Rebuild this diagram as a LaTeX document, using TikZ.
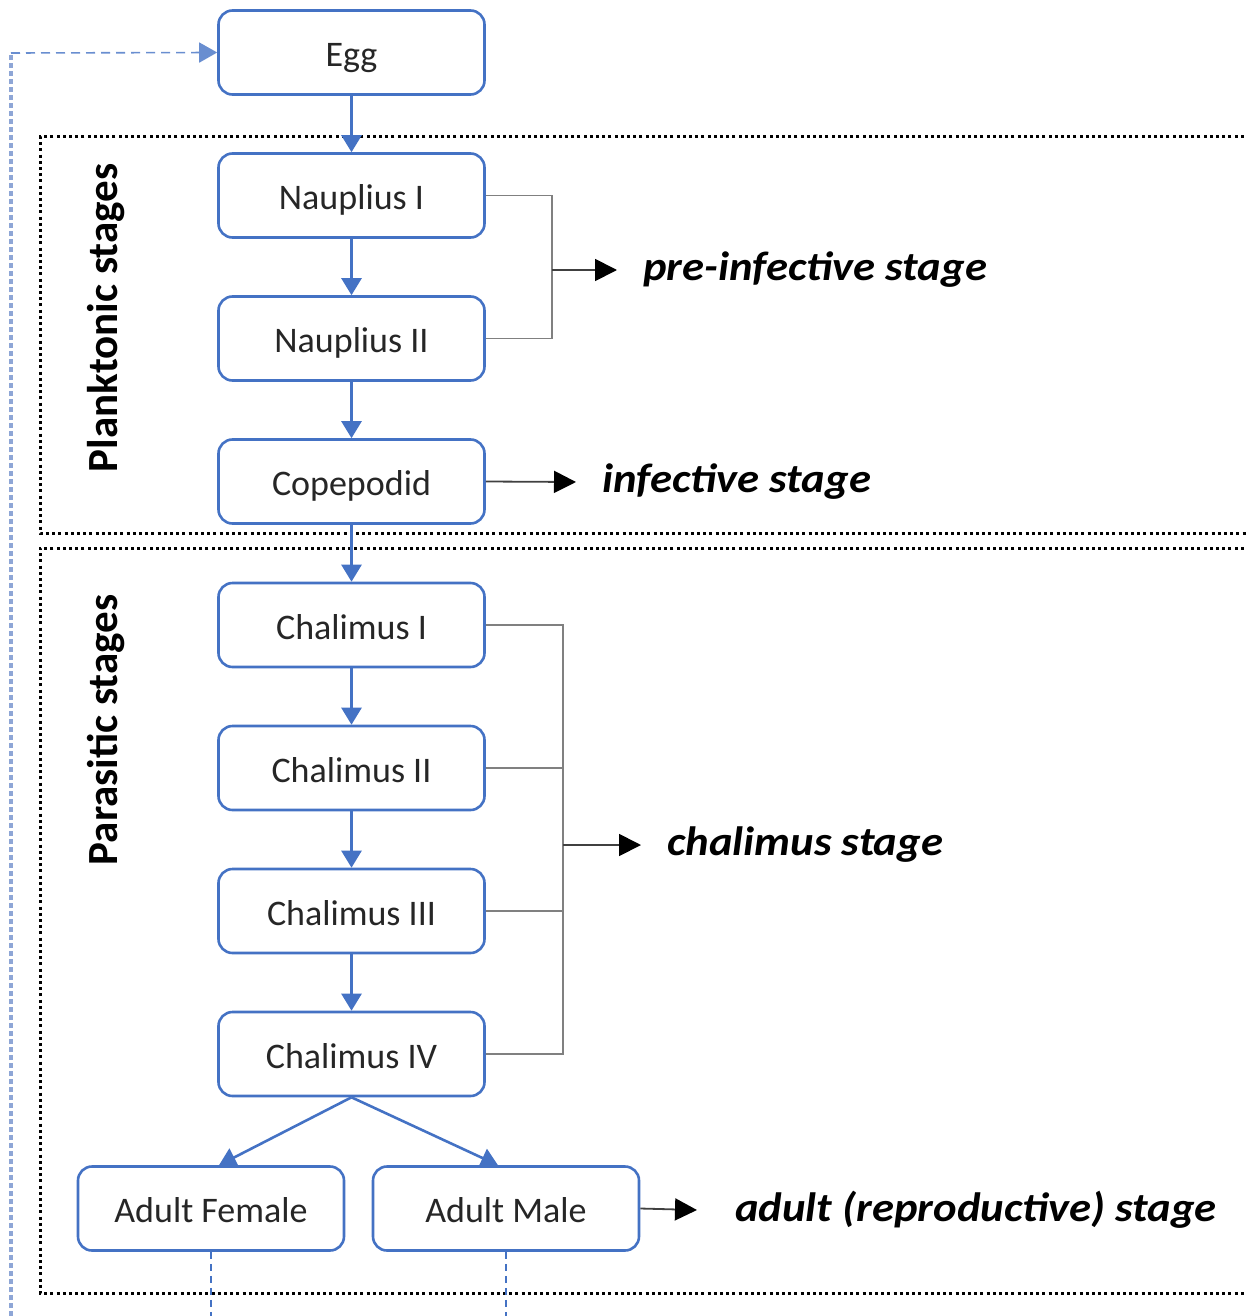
\documentclass[tikz,border=0pt]{standalone}
\usepackage{fontspec}
\setmainfont{Carlito}
\usetikzlibrary{arrows.meta}
\definecolor{bblue}{HTML}{4472C4}
\definecolor{lblue}{HTML}{8EA6D6}
\newcommand{\wlab}[1]{\scalebox{1.09}[1]{#1}}
\begin{document}
\begin{tikzpicture}[x=1pt,y=-1pt,
  stage/.style={draw=bblue,line width=2.6pt,rounded corners=14pt,minimum width=266pt,minimum height=84pt,inner sep=0pt,text height=29pt,text depth=1pt,font=\fontsize{36}{40}\selectfont,text=black!85},
  flow/.style={draw=bblue,line width=2.6pt,-{Triangle[length=17pt,width=20pt]}},
  brack/.style={draw=gray,line width=1.4pt},
  blk/.style={draw=black!75,line width=1.8pt,-{Triangle[length=22pt,width=22pt,fill=black,color=black]}},
  lab/.style={anchor=west,font=\fontsize{41}{46}\selectfont\bfseries\itshape,inner sep=0pt},
  group/.style={draw=black,line width=3pt,dash pattern=on 3pt off 3.2pt},
  side/.style={rotate=90,font=\fontsize{43}{48}\selectfont\bfseries,inner sep=0pt}]
\useasboundingbox (0,0) rectangle (1246,1316);
% groups
\draw[group] (1250,137) -- (40,137) -- (40,533) -- (1250,533);
\draw[group] (1250,548) -- (40,548) -- (40,1293) -- (1250,1293);
\node[side] (plank) at (106,318) {Planktonic stages};
\node[side] (para) at (106,730) {Parasitic stages};
% nodes
\node[stage] (egg) at (351.5,52.5) {Egg};
\node[stage] (n1) at (351.5,195.5) {Nauplius I};
\node[stage] (n2) at (351.5,338.5) {Nauplius II};
\node[stage] (cop) at (351.5,481.5) {Copepodid};
\node[stage] (c1) at (351.5,625) {Chalimus I};
\node[stage] (c2) at (351.5,768) {Chalimus II};
\node[stage] (c3) at (351.5,911) {Chalimus III};
\node[stage] (c4) at (351.5,1054) {Chalimus IV};
\node[stage] (af) at (211,1208.5) {Adult Female};
\node[stage] (am) at (506,1208.5) {Adult Male};
% flow arrows
\draw[flow] (egg) -- (n1);
\draw[flow] (n1) -- (n2);
\draw[flow] (n2) -- (cop);
\draw[flow] (cop) -- (c1);
\draw[flow] (c1) -- (c2);
\draw[flow] (c2) -- (c3);
\draw[flow] (c3) -- (c4);
\draw[flow] (c4.south) -- ([xshift=8pt]af.north);
\draw[flow] (c4.south) -- ([xshift=-8pt]am.north);
% labels
\node[lab] (pre) at (643,270) {\wlab{pre-infective stage}};
\node[lab] (inf) at (602,482) {\wlab{infective stage}};
\node[lab] (chal) at (667,845) {\wlab{chalimus stage}};
\node[lab] (adu) at (735,1210) {\wlab{adult (reproductive) stage}};
% brackets
\coordinate (b1) at (552,270);
\draw[brack] (n1.east) -| (b1) |- (n2.east);
\draw[blk] (b1) -- ([xshift=-26pt]pre.west);
\draw[blk] (cop.east) -- ([xshift=-26pt]inf.west);
\coordinate (b2) at (563,845);
\draw[brack] (c1.east) -| (b2) |- (c4.east);
\draw[brack] (c2.east) -| (b2) |- (c3.east);
\draw[blk] (b2) -- ([xshift=-26pt]chal.west);
\draw[blk] (am.east) -- ([xshift=-38pt]adu.west);
% return loop
\coordinate (lt) at (11,53);
\coordinate (lb) at (11,1316);
\draw[draw=lblue,line width=4pt,dash pattern=on 5pt off 3pt] (lb) -- (lt);
\draw[draw=bblue!80,line width=1.6pt,dash pattern=on 9pt off 6pt,-{Triangle[length=18pt,width=20pt]}] (lt) -- (egg.west);
\coordinate (afb) at (211,1316);
\coordinate (amb) at (506,1316);
\draw[draw=bblue,line width=1.2pt,dash pattern=on 7pt off 5pt] (af.south) -- (afb);
\draw[draw=bblue,line width=1.2pt,dash pattern=on 7pt off 5pt] (am.south) -- (amb);
\end{tikzpicture}
\end{document}
